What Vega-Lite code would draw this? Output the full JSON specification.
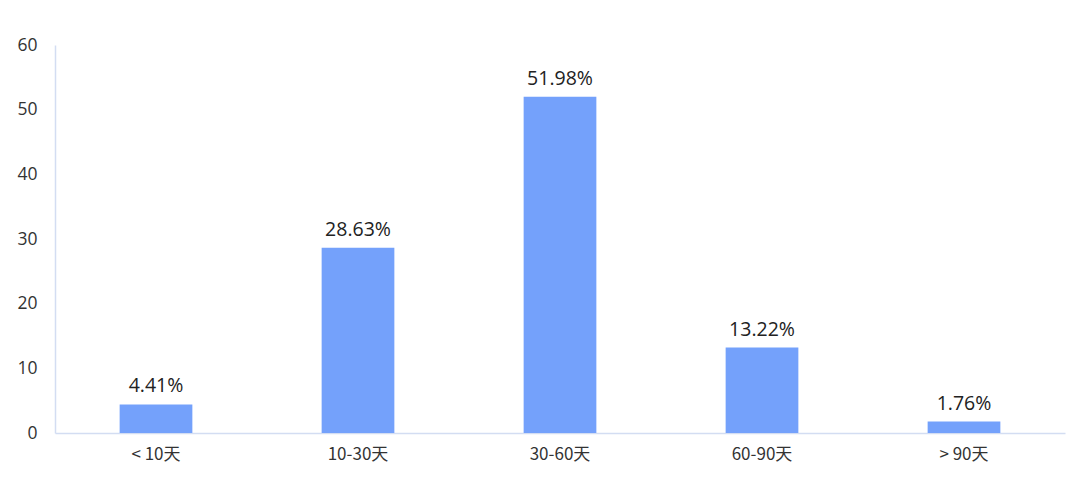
{
  "$schema": "https://vega.github.io/schema/vega-lite/v6.json",
  "width": 1010,
  "height": 388,
  "autosize": {"type": "none"},
  "padding": {"left": 55, "top": 45, "right": 15, "bottom": 44},
  "background": "white",
  "config": {"view": {"stroke": null}, "font": "Open Sans"},
  "data": {"values": [
    {"cat": "< 10天", "v": 4.41, "label": "4.41%"},
    {"cat": "10-30天", "v": 28.63, "label": "28.63%"},
    {"cat": "30-60天", "v": 51.98, "label": "51.98%"},
    {"cat": "60-90天", "v": 13.22, "label": "13.22%"},
    {"cat": "> 90天", "v": 1.76, "label": "1.76%"}
  ]},
  "encoding": {
    "x": {"field": "cat", "type": "nominal", "sort": null,
      "scale": {"paddingInner": 0.64, "paddingOuter": 0.32},
      "axis": {"title": null, "labelAngle": 0, "ticks": false, "labelPadding": 13, "labelFontSize": 17, "labelColor": "#333333", "domainColor": "#d3ddf2", "domainWidth": 1.5, "labelFont": "Noto Sans CJK SC"}},
    "y": {"field": "v", "type": "quantitative",
      "scale": {"domain": [0, 60]},
      "axis": {"title": null, "values": [0, 10, 20, 30, 40, 50, 60], "grid": false, "ticks": false, "labelPadding": 18, "labelFontSize": 17.5, "labelColor": "#333333", "domainColor": "#d3ddf2", "domainWidth": 1.5}}
  },
  "layer": [
    {"mark": {"type": "bar", "color": "#74a1fb"}},
    {"mark": {"type": "text", "baseline": "bottom", "dy": -8, "fontSize": 19.5, "color": "#222222"},
     "encoding": {"text": {"field": "label"}}}
  ]
}
